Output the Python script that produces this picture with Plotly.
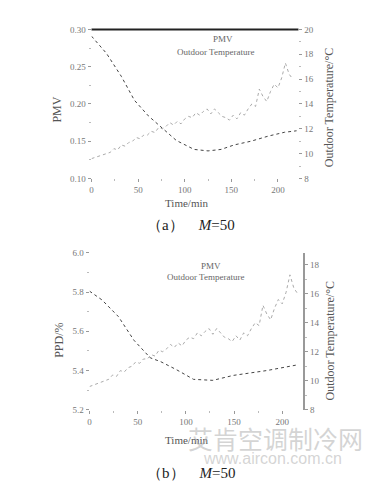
import plotly.graph_objects as go

# ---------------- data ----------------
time_temp = [0, 4, 8, 12, 16, 20, 24, 28, 32, 36, 40, 44, 48, 52, 56, 60, 64, 68, 72, 76,
             80, 84, 88, 92, 96, 100, 104, 108, 112, 116, 120, 124, 128, 132, 136, 140,
             144, 148, 152, 156, 160, 164, 168, 172, 176, 180, 184, 188, 192, 196, 200,
             204, 208, 212, 216]
outdoor_temp = [9.6, 9.7, 9.8, 9.9, 10.0, 10.1, 10.4, 10.3, 10.7, 10.6, 10.9, 11.0, 11.3, 11.2,
                11.5, 11.5, 11.8, 11.7, 12.1, 12.0, 12.2, 12.5, 12.3, 12.6, 12.4, 12.8, 13.0,
                12.9, 13.3, 13.1, 13.4, 13.6, 13.2, 13.6, 13.3, 13.0, 12.9, 12.7, 13.1, 12.8,
                13.3, 13.1, 13.6, 14.0, 13.8, 15.2, 14.6, 14.2, 15.0, 15.6, 15.3, 16.1, 17.3,
                16.4, 16.0]

time_pmv = [0, 16, 32, 46, 61, 75, 91, 110, 125, 139, 153, 171, 190, 207, 220]
pmv = [0.291, 0.268, 0.237, 0.205, 0.184, 0.168, 0.151, 0.139, 0.137, 0.139, 0.145,
       0.150, 0.157, 0.162, 0.164]

time_ppd = [0, 13, 30, 46, 63, 74, 90, 108, 128, 149, 184, 217]
ppd = [5.805, 5.76, 5.675, 5.555, 5.465, 5.445, 5.405, 5.355, 5.35, 5.375, 5.40, 5.43]

x_ticks = [0, 50, 100, 150, 200]
pmv_ticks = [0.10, 0.15, 0.20, 0.25, 0.30]
ppd_ticks = [5.2, 5.4, 5.6, 5.8, 6.0]
temp_ticks_a = [8, 10, 12, 14, 16, 18, 20]
temp_ticks_b = [8, 10, 12, 14, 16, 18]

# ---------------- figure ----------------
W, H = 384, 500
def px(x): return x / W
def py(y): return 1 - y / H

FONT = "Liberation Serif"
TICKC = "#777"
fig = go.Figure()

fig.add_trace(go.Scatter(x=time_pmv, y=pmv, mode="lines", line=dict(color="#444", width=1, dash="dot"),
                         xaxis="x", yaxis="y", showlegend=False))
fig.add_trace(go.Scatter(x=time_temp, y=outdoor_temp, mode="lines", line=dict(color="#aaa", width=1, dash="dot"),
                         xaxis="x", yaxis="y2", showlegend=False))
fig.add_trace(go.Scatter(x=time_ppd, y=ppd, mode="lines", line=dict(color="#444", width=1, dash="dot"),
                         xaxis="x2", yaxis="y3", showlegend=False))
fig.add_trace(go.Scatter(x=time_temp, y=outdoor_temp, mode="lines", line=dict(color="#aaa", width=1, dash="dot"),
                         xaxis="x2", yaxis="y4", showlegend=False))

tickfont = dict(family=FONT, size=9, color=TICKC)
common_x = dict(range=[0, 222], tickvals=x_ticks, ticks="outside", ticklen=3, tickcolor="#999",
                showgrid=False, zeroline=False, showline=False, tickfont=tickfont,
                minor=dict(dtick=25, tick0=0, ticks="outside", ticklen=2, tickcolor="#bbb"))
common_y = dict(showgrid=False, zeroline=False, ticks="outside", ticklen=3, tickcolor="#999",
                tickfont=tickfont)

dom_a_x = [px(90), px(298)]
dom_a_y = [py(177), py(25)]
dom_b_x = [px(88), px(303)]
dom_b_y = [py(413), py(253)]

fig.update_layout(
    width=W, height=H, margin=dict(l=0, r=0, t=0, b=0),
    paper_bgcolor="white", plot_bgcolor="white",
    xaxis=dict(domain=dom_a_x, anchor="y", **common_x),
    yaxis=dict(domain=dom_a_y, anchor="x", range=[0.10, 0.30], tickvals=pmv_ticks,
               ticktext=["0.10", "0.15", "0.20", "0.25", "0.30"], showline=False,
               minor=dict(dtick=0.025, ticks="outside", ticklen=2, tickcolor="#bbb"), **common_y),
    yaxis2=dict(domain=dom_a_y, anchor="x", overlaying="y", side="right", range=[8, 20],
                tickvals=temp_ticks_a, showline=False,
                minor=dict(dtick=1, ticks="outside", ticklen=2, tickcolor="#bbb"), **common_y),
    xaxis2=dict(domain=dom_b_x, anchor="y3", **common_x),
    yaxis3=dict(domain=dom_b_y, anchor="x2", range=[5.2, 6.0], tickvals=ppd_ticks,
                ticktext=["5.2", "5.4", "5.6", "5.8", "6.0"], showline=False,
                minor=dict(dtick=0.1, ticks="outside", ticklen=2, tickcolor="#bbb"), **common_y),
    yaxis4=dict(domain=dom_b_y, anchor="x2", overlaying="y3", side="right", range=[8, 18.81],
                tickvals=temp_ticks_b, showline=True, linecolor="#999", linewidth=1.5,
                minor=dict(dtick=1, ticks="outside", ticklen=2, tickcolor="#bbb"), **common_y),
)

# thick top border of chart (a)
fig.add_shape(type="line", xref="paper", yref="paper", x0=px(90), x1=px(298), y0=py(25), y1=py(25),
              line=dict(color="#222", width=2))

def ann(text, x, y, size=12, color="#333", angle=0, family=FONT, **kw):
    fig.add_annotation(text=text, x=px(x), y=py(y), xref="paper", yref="paper", showarrow=False,
                       textangle=angle, font=dict(family=family, size=size, color=color),
                       xanchor="center", yanchor="middle", **kw)

# chart (a) texts
ann("PMV", 55, 107, 12, "#555", -90)
ann("Outdoor Temperature/°C", 329, 105, 12, "#555", -90)
ann("Time/min", 185, 202, 11, "#555")
ann("PMV", 222, 35, 9, "#666")
ann("Outdoor Temperature", 215, 48, 9, "#666")
ann("（a）    <i>M</i>=50", 190, 225, 15, "#222")

# chart (b) texts
ann("PPD/%", 57, 342, 12, "#555", -90)
ann("Outdoor Temperature/°C", 330, 343, 12, "#555", -90)
ann("Time/min", 185, 444, 11, "#555")
ann("PMV", 210, 266, 9, "#666")
ann("Outdoor Temperature", 205, 278, 9, "#666")
ann("（b）    <i>M</i>=50", 190, 478, 15, "#222")

# watermark
ann("艾肯空调制冷网", 275, 442, 25, "rgba(170,170,170,0.5)", family="Noto Sans CJK SC")
ann("www.aircon.com.cn", 272, 463, 16, "rgba(170,170,170,0.5)", family="Liberation Sans")

fig.write_html("out.html")
